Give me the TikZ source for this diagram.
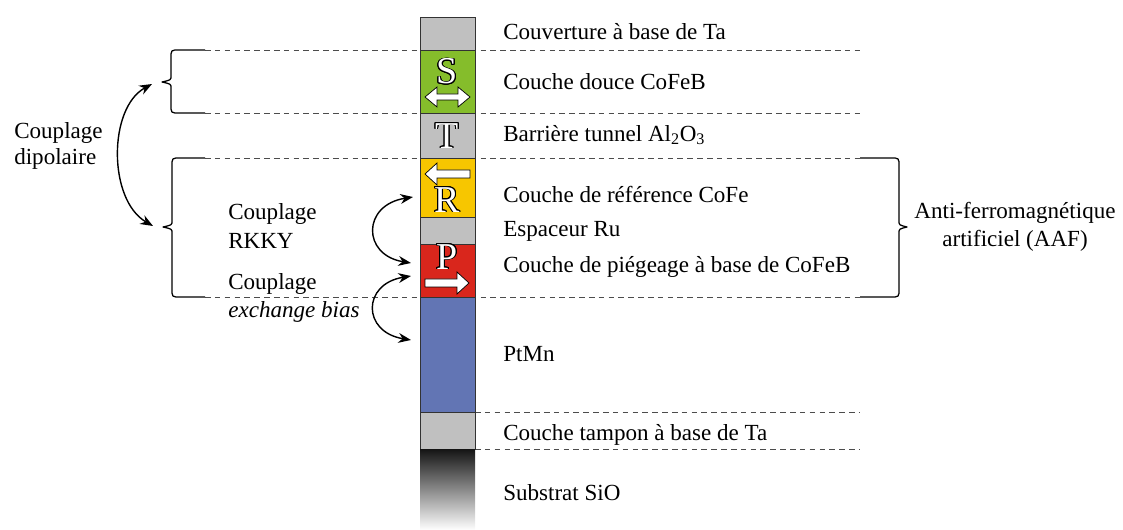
\documentclass[tikz,border=0pt]{standalone}
\usepackage{fontspec}
\setmainfont{Liberation Serif}
\usepackage[copies]{contour}
\contourlength{0.6pt}
\usetikzlibrary{arrows.meta}
\definecolor{capgray}{RGB}{192,192,192}
\definecolor{softgreen}{RGB}{133,189,43}
\definecolor{refyellow}{RGB}{247,198,0}
\definecolor{pinred}{RGB}{217,38,28}
\definecolor{ptmnblue}{RGB}{98,117,180}
\tikzset{
    layer/.style={draw=black!80,line width=0.6pt},
    sepline/.style={draw=black!70,line width=0.6pt,dash pattern=on 4pt off 3pt},
    lbl/.style={anchor=west,inner sep=0pt,font=\fontsize{16.4}{20}\selectfont},
    brace/.style={line width=0.9pt,line join=round},
    coupling/.style={line width=1pt,{Stealth[length=9pt,width=7pt]}-{Stealth[length=9pt,width=7pt]}},
    magnet/.style={fill=white,draw=black,line width=0.5pt},
    letter/.style={inner sep=0pt,font=\fontsize{27}{27}\selectfont},
}
\newcommand{\hollow}[1]{\contour{black}{\textcolor{white}{#1}}}

\begin{document}
\begin{tikzpicture}[x=0.025cm,y=-0.025cm]
\useasboundingbox (0,0) rectangle (1123,530);
% separation lines
\draw[sepline] (205,50) -- (860,50);
\draw[sepline] (205,113) -- (860,113);
\draw[sepline] (205,158) -- (860,158);
\draw[sepline] (205,297) -- (860,297);
\draw[sepline] (475,412) -- (860,412);
\draw[sepline] (475,449) -- (860,449);
% the stack
\draw[layer,fill=capgray] (420,17) rectangle (475,50);
\draw[layer,fill=softgreen] (420,50) rectangle (475,113);
\draw[layer,fill=capgray] (420,113) rectangle (475,158);
\draw[layer,fill=refyellow] (420,158) rectangle (475,217);
\draw[layer,fill=capgray] (420,217) rectangle (475,244);
\draw[layer,fill=pinred] (420,244) rectangle (475,297);
\draw[layer,fill=ptmnblue] (420,297) rectangle (475,412);
\draw[layer,fill=capgray] (420,412) rectangle (475,449);
\shade[top color=black!92,bottom color=white] (420,449) rectangle (475,530);
% magnetisations
\draw[magnet] (425,97) -- (437,87) -- (437,94) -- (458,94) -- (458,87) -- (470,97) -- (458,107) -- (458,100) -- (437,100) -- (437,107) -- cycle;
\draw[magnet] (425,174) -- (437,163) -- (437,170) -- (470,170) -- (470,178) -- (437,178) -- (437,185) -- cycle;
\draw[magnet] (469,283) -- (457,272) -- (457,279) -- (425,279) -- (425,287) -- (457,287) -- (457,294) -- cycle;
\node[letter] (S) at (447,72) {\hollow{S}};
\node[letter] (T) at (447,136) {\hollow{T}};
\node[letter] (R) at (447,200) {\hollow{R}};
\node[letter] (P) at (447,257) {\hollow{P}};
% layer names
\node[lbl] (cap) at (503,32) {Couverture à base de Ta};
\node[lbl] (soft) at (503,82) {Couche douce CoFeB};
\node[lbl] (barrier) at (503,135) {Barrière tunnel Al\textsubscript{2}O\textsubscript{3}};
\node[lbl] (ref) at (503,194) {Couche de référence CoFe};
\node[lbl] (spacer) at (503,231) {Espaceur Ru};
\node[lbl] (pinned) at (503,267) {Couche de piégeage à base de CoFeB};
\node[lbl] (ptmn) at (503,354) {PtMn};
\node[lbl] (buffer) at (503,435) {Couche tampon à base de Ta};
\node[lbl] (substrate) at (503,493) {Substrat SiO};
% braces
\draw[brace] (205,50) -- (179,50) .. controls (171,50) .. (171,58) -- (171,76)
    .. controls (171,80) .. (162,82) .. controls (171,84) .. (171,88) -- (171,105)
    .. controls (171,113) .. (179,113) -- (205,113);
\draw[brace] (205,158) -- (180,158) .. controls (172,158) .. (172,166) -- (172,221)
    .. controls (172,225) .. (163,227) .. controls (172,229) .. (172,233) -- (172,289)
    .. controls (172,297) .. (180,297) -- (205,297);
\draw[brace] (860,158) -- (891,158) .. controls (899,158) .. (899,166) -- (899,221)
    .. controls (899,225) .. (907,227) .. controls (899,229) .. (899,233) -- (899,289)
    .. controls (899,297) .. (891,297) -- (860,297);
% couplings
\coordinate (dipA) at (152,84);
\coordinate (dipB) at (153,226);
\coordinate (rkkyA) at (413,197);
\coordinate (rkkyB) at (411,263);
\coordinate (ebA) at (411,276);
\coordinate (ebB) at (411,340);
\draw[coupling] (dipA) .. controls (108,108) and (108,200) .. (dipB);
\draw[coupling] (rkkyA) .. controls (362,205) and (362,255) .. (rkkyB);
\draw[coupling] (ebA) .. controls (362,284) and (362,332) .. (ebB);
\node[lbl,align=left,font=\fontsize{16.4}{18}\selectfont] (dipolar) at (14,146) {Couplage\\dipolaire};
\node[lbl,align=left] (rkky) at (228,226) {Couplage\\RKKY};
\node[lbl,align=left] (exbias) at (228,298) {Couplage\\\textit{exchange bias}};
\node[lbl,anchor=center,align=center] (aaf) at (1015,227) {Anti-ferromagnétique\\artificiel (AAF)};
\end{tikzpicture}
\end{document}
